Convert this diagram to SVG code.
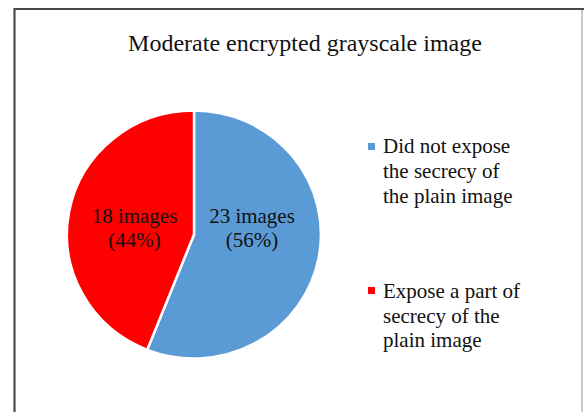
<svg xmlns="http://www.w3.org/2000/svg" width="584" height="412" viewBox="0 0 584 412">
<style>
text{font-family:"Liberation Serif","Times New Roman",serif;fill:#111}
.t{font-size:24px}
.l{font-size:21px}
.s{stroke:#fff;stroke-width:2.5;stroke-linejoin:round}
</style>
<rect width="584" height="412" fill="#fff"/>
<g id="frame">
<line x1="14.5" y1="8" x2="14.5" y2="412" stroke="#4a4a4a" stroke-width="2.2"/>
<line x1="14" y1="9" x2="584" y2="9" stroke="#4a4a4a" stroke-width="2.2"/>
<line x1="582" y1="10" x2="582" y2="412" stroke="#b8b8b8" stroke-width="1.5"/>
</g>
<g id="title"><text class="t" x="305" y="51" text-anchor="middle">Moderate encrypted grayscale image</text></g>
<g id="slice-blue">
<path class="s" d="M194,234.5 L194,110.5 A127,124 0 1 1 147.2,349.8 Z" fill="#5B9BD5"/>
<text class="l" x="252" y="222.5" text-anchor="middle">23 images</text>
<text class="l" x="252" y="247" text-anchor="middle">(56%)</text>
</g>
<g id="slice-red">
<path class="s" d="M194,234.5 L147.2,349.8 A127,124 0 0 1 194,110.5 Z" fill="#FF0000"/>
<text class="l" x="134.5" y="222.5" text-anchor="middle">18 images</text>
<text class="l" x="134.5" y="247" text-anchor="middle">(44%)</text>
</g>
<g id="legend-blue">
<rect x="368" y="143" width="7" height="7" fill="#5B9BD5"/>
<text class="l" x="383" y="153">Did not expose</text>
<text class="l" x="383" y="178">the secrecy of</text>
<text class="l" x="383" y="203">the plain image</text>
</g>
<g id="legend-red">
<rect x="368" y="287" width="7" height="7" fill="#FF0000"/>
<text class="l" x="383" y="298">Expose a part of</text>
<text class="l" x="383" y="323">secrecy of the</text>
<text class="l" x="383" y="347">plain image</text>
</g>
<g id="connectors"/>
</svg>
